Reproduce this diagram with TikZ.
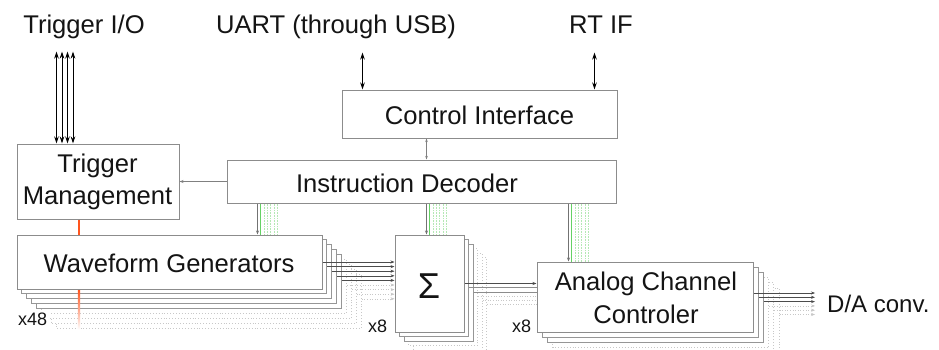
\documentclass[tikz,border=0pt]{standalone}
\usepackage{fontspec}
\setmainfont{Liberation Sans}
\usetikzlibrary{arrows.meta,calc}
\definecolor{boxgray}{RGB}{140,140,140}
\definecolor{laygray}{RGB}{150,150,150}
\definecolor{dotgray}{RGB}{200,200,200}
\definecolor{orangeC}{RGB}{255,85,30}
\definecolor{greenA}{RGB}{100,210,100}
\definecolor{greenB}{RGB}{180,232,180}
\definecolor{txt}{RGB}{20,20,20}
\newcommand\drawstack[7]{%
  \foreach \k in {#5,...,1}{%
    \ifnum\k>#7\relax
      \path[layD] ({#1+\k*#6},{#2+\k*#6}) rectangle ({#3+\k*#6},{#4+\k*#6});
    \else
      \path[layS] ({#1+\k*#6},{#2+\k*#6}) rectangle ({#3+\k*#6},{#4+\k*#6});
    \fi}}
\begin{document}
\begin{tikzpicture}[x=1pt,y=-1pt,
  box/.style={draw=boxgray,line width=1pt,fill=white,inner sep=0pt},
  big/.style={font=\fontsize{25.6}{30}\selectfont,text=txt,inner sep=0pt,anchor=base},
  small/.style={font=\fontsize{18}{22}\selectfont,text=txt,inner sep=2pt,anchor=base west,fill=white},
  layS/.style={draw=laygray,line width=0.9pt,fill=white},
  layD/.style={draw=dotgray,line width=0.9pt,dotted,fill=white},
  io/.style={draw=black,line width=0.8pt,{Stealth[length=7,width=4.5]}-{Stealth[length=7,width=4.5]}},
  thinbi/.style={draw=gray,line width=0.6pt,{Stealth[length=3.5,width=2.5]}-{Stealth[length=3.5,width=2.5]}},
  thinarr/.style={draw=gray,line width=0.7pt,-{Stealth[length=4,width=3]}},
  busS/.style={draw=black!70,line width=0.6pt,-{Stealth[length=4,width=3,fill=black]}},
  busD/.style={draw=dotgray,line width=0.6pt,dotted,-{Stealth[length=4,width=3,fill=gray]}},
  busN/.style={draw=dotgray,line width=0.6pt,dotted},
  busG/.style={draw=black!45,line width=0.6pt},
  greenarr/.style={draw=black!55,line width=0.7pt,-{Stealth[length=4,width=3,fill=black]}},
  gA/.style={draw=greenA,line width=0.8pt},
  gB/.style={draw=greenB,line width=0.6pt,densely dotted},
  orangeline/.style={draw=orangeC,line width=2.4pt}
]
\useasboundingbox (0,0) rectangle (939,349);

% stacked copies (behind the front boxes)
\drawstack{17}{235}{322}{289}{8}{4.9}{4}
\drawstack{395}{235}{464}{332}{5}{4.5}{2}
\drawstack{537}{262}{753}{332}{5}{5.2}{2}

% boxes
\node[box,minimum width=275,minimum height=48] (ci) at (479.5,114) {};
\node[box,minimum width=389,minimum height=43] (id) at (421.5,181.5) {};
\node[box,minimum width=162,minimum height=75] (tm) at (98,181.5) {};
\node[box,minimum width=305,minimum height=54] (wg) at (169.5,262) {};
\node[box,minimum width=69,minimum height=97] (sg) at (429.5,283.5) {};
\node[box,minimum width=216,minimum height=70] (acc) at (645,297) {};

% labels
\node[big] (tio) at (84,33) {Trigger I/O};
\node[big] (uart) at (336,33) {UART (through USB)};
\node[big] (rtif) at (601,33) {RT IF};
\node[big] (cil) at (479.5,124) {Control Interface};
\node[big] (idl) at (407,192) {Instruction Decoder};
\node[big] (tml1) at (97.5,172) {Trigger};
\node[big] (tml2) at (97.5,204) {Management};
\node[big] (wgl) at (169,272) {Waveform Generators};
\node[big,font=\fontsize{36}{40}\selectfont] (sgl) at (429,298) {Σ};
\node[big] (accl1) at (646,290) {Analog Channel};
\node[big] (accl2) at (646,323) {Controler};
\node[big,anchor=base west,font=\fontsize{24}{28}\selectfont] (dal) at (827,312) {D/A conv.};

% trigger I/O
\foreach \dx in {40,45.5,51,56.5}
  \draw[io] ($(tm.north west)+(\dx,0)$) -- ($(tm.north west)+(\dx,-92)$);
% UART and RT IF
\draw[io] ($(ci.north west)+(21,0)$) -- ($(ci.north west)+(21,-37)$);
\draw[io] ($(ci.north west)+(253,0)$) -- ($(ci.north west)+(253,-37)$);
% control interface <-> instruction decoder
\coordinate (ciid) at ($(ci.south west)+(85,0)$);
\draw[thinbi] (ciid) -- (ciid |- id.north);
% instruction decoder -> trigger management
\draw[thinarr] (id.west) -- (id.west -| tm.east);

% green buses
\foreach \tgt/\off in {wg/241,sg/32,acc/32}{
  \coordinate (g0) at ($(\tgt.north west)+(\off,0)$);
  \foreach \k in {6,5,4,3,2}
    \draw[gB] ($(g0 |- id.south)+(\k*3.3,0)$) -- ($(g0)+(\k*3.3,0)$);
  \draw[gA] ($(g0 |- id.south)+(2.4,0)$) -- ($(g0)+(2.4,0)$);
  \draw[greenarr] (g0 |- id.south) -- (g0);
}

% waveform generators -> sum
\foreach \k in {8,...,0}{
  \ifnum\k>4\relax
    \draw[busD] ($(wg.east)+(\k*4.9,\k*4.6)$) -- ($(wg.east -| sg.west)+(0,\k*4.6)$);
  \else
    \draw[busS] ($(wg.east)+(\k*4.9,\k*4.6)$) -- ($(wg.east -| sg.west)+(0,\k*4.6)$);
  \fi}
% sum -> analog channel controller
\foreach \k in {5,...,1}{
  \ifnum\k>2\relax
    \draw[busN] ($(sg.east)+(\k*4.5,\k*4.2)$) -- ($(sg.east -| acc.west)+(0,\k*4.2)$);
  \else
    \draw[busG] ($(sg.east)+(\k*4.5,\k*4.2)$) -- ($(sg.east -| acc.west)+(0,\k*4.2)$);
  \fi}
\draw[busS] (sg.east) -- (sg.east -| acc.west);
% analog channel controller -> D/A
\foreach \k in {5,...,0}{
  \ifnum\k>2\relax
    \draw[busD] ($(acc.east)+(\k*5.2,-4+\k*4.3)$) -- ($(acc.east -| dal.west)+(-12,-4+\k*4.3)$);
  \else
    \draw[busS] ($(acc.east)+(\k*5.2,-4+\k*4.3)$) -- ($(acc.east -| dal.west)+(-12,-4+\k*4.3)$);
  \fi}

% trigger line (orange)
\coordinate (orx) at ($(tm.south)+(-19,0)$);
\draw[orangeline] (orx) -- (orx |- wg.north);
\shade[top color=orangeC,bottom color=white]
  ($(orx |- wg.south)+(-1.2,0.5)$) rectangle ($(orx |- wg.south)+(1.2,40)$);

% multiplicity labels
\node[small] (n48) at (16,325) {x48};
\node[small] (n8a) at (366,332) {x8};
\node[small] (n8b) at (510,332) {x8};
\end{tikzpicture}
\end{document}
